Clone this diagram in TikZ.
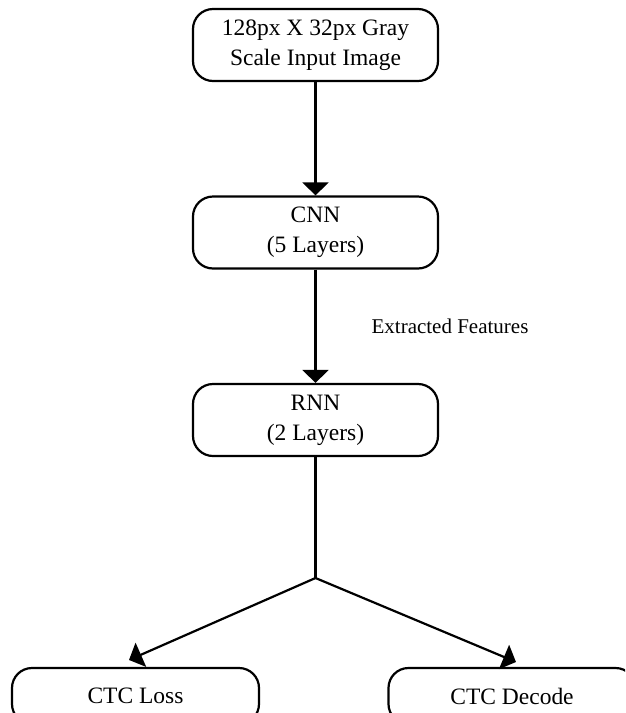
\documentclass[tikz,border=0pt]{standalone}
\usepackage{fontspec}
\setmainfont{Liberation Serif}
\usetikzlibrary{arrows.meta}
\tikzset{
  flowbox/.style={draw=black, line width=2.2pt, rounded corners=20pt,
    minimum width=245pt, minimum height=72pt, align=center, inner sep=0pt,
    font=\fontsize{23.5}{30}\selectfont},
  lowbox/.style={flowbox, minimum width=247pt, minimum height=56pt},
  conn/.style={line width=2.2pt, -{Triangle[width=26pt,length=13pt]}},
  plain/.style={line width=2.2pt},
  lbl/.style={font=\fontsize{21}{25}\selectfont, inner sep=0pt}
}
\begin{document}
\begin{tikzpicture}[x=1pt,y=-1pt]
\useasboundingbox (0,0) rectangle (625,713);
\clip (0,0) rectangle (625,713);
\node[flowbox] (inp) at (315.5,45) {128px X 32px Gray\\Scale Input Image};
\node[flowbox] (cnn) at (315.5,232.5) {CNN\\(5 Layers)};
\node[flowbox] (rnn) at (315.5,420) {RNN\\(2 Layers)};
\node[lowbox] (loss) at (135.5,696) {CTC Loss};
\node[lowbox] (dec) at (512,696) {CTC Decode};
\coordinate (br) at (315.5,578);
\coordinate (tipL) at (129,660);
\coordinate (tipR) at (516,662);
\draw[conn] (inp.south) -- (cnn.north);
\draw[conn] (cnn.south) -- node[lbl, right=55pt] (feat) {Extracted Features} (rnn.north);
\draw[plain] (rnn.south) -- (br);
\draw[conn] (br) -- (tipL);
\draw[conn] (br) -- (tipR);
\end{tikzpicture}
\end{document}
